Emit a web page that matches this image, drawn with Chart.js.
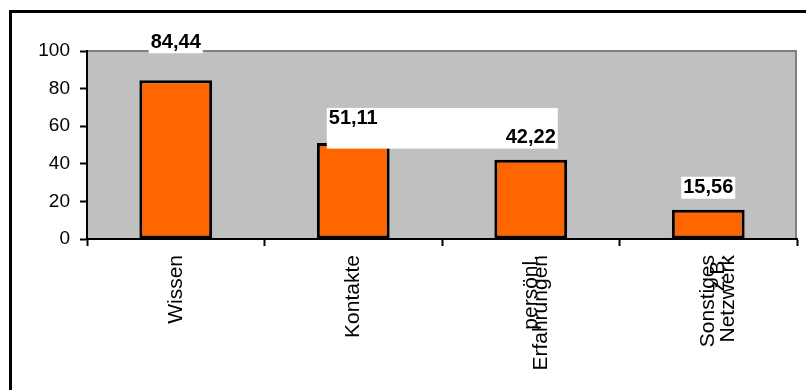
<!DOCTYPE html>
<html>
<head>
<meta charset="utf-8">
<script src="https://cdn.jsdelivr.net/npm/chart.js@4"></script>
<style>
  html, body { margin: 0; padding: 0; background: #fff; }
  #wrap { width: 806px; height: 390px; }
</style>
</head>
<body>
<div id="wrap"><canvas id="chart" width="806" height="390"></canvas></div>
<script>
// Data
const categories = [
    ['Wissen'],
    ['Kontakte'],
    ['persönl.', 'Erfahrungen'],
    ['Sonstiges', 'z.B.', 'Netzwerk']
];
const values = [84.44, 51.11, 42.22, 15.56];
const valueLabels = ['84,44', '51,11', '42,22', '15,56'];
const yTicks = [0, 20, 40, 60, 80, 100];

// Frame: black border top/left, grey plot area with grey edge
const framePlugin = {
    id: 'frame',
    beforeDraw(chart) {
        const { ctx, chartArea: a } = chart;
        ctx.save();
        ctx.fillStyle = '#000';
        ctx.fillRect(9, 10, 3, 390);
        ctx.fillRect(9, 10, 797, 3);
        ctx.fillStyle = '#C0C0C0';
        ctx.fillRect(a.left, a.top, a.right - a.left, a.bottom - a.top);
        ctx.strokeStyle = '#808080';
        ctx.lineWidth = 2;
        ctx.beginPath();
        ctx.moveTo(a.left, a.top);
        ctx.lineTo(a.right - 1, a.top);
        ctx.lineTo(a.right - 1, a.bottom);
        ctx.stroke();
        ctx.restore();
    }
};

// Value labels with white boxes (labels 2 and 3 share one box, as in the original)
const valueLabelPlugin = {
    id: 'valueLabels',
    afterDatasetsDraw(chart) {
        const { ctx } = chart;
        const meta = chart.getDatasetMeta(0);
        const nudge = [-16, -2, 0, 0];
        ctx.save();
        ctx.font = 'bold 20px "Liberation Sans", Arial, sans-serif';
        ctx.textAlign = 'center';
        ctx.textBaseline = 'middle';
        const boxes = meta.data.map((bar, i) => {
            const w = ctx.measureText(valueLabels[i]).width;
            const cy = bar.y - 22 + nudge[i];
            return { x: bar.x, y: cy, l: bar.x - w / 2 - 2, r: bar.x + w / 2 + 2, t: cy - 11, b: cy + 11 };
        });
        ctx.fillStyle = '#fff';
        [0, 3].forEach(i => {
            const b = boxes[i];
            ctx.fillRect(b.l, b.t, b.r - b.l, b.b - b.t);
        });
        const m1 = boxes[1], m2 = boxes[2];
        const l = Math.min(m1.l, m2.l), r = Math.max(m1.r, m2.r);
        const t = Math.min(m1.t, m2.t), bt = Math.max(m1.b, m2.b);
        ctx.fillRect(l, t, r - l, bt - t);
        ctx.fillStyle = '#000';
        boxes.forEach((b, i) => ctx.fillText(valueLabels[i], b.x, b.y));
        ctx.restore();
    }
};

const ctx = document.getElementById('chart').getContext('2d');
const chart = new Chart(ctx, {
    type: 'bar',
    data: {
        labels: categories,
        datasets: [{
            data: values,
            backgroundColor: '#FF6600',
            borderColor: '#000',
            borderWidth: 3,
            borderSkipped: false,
            categoryPercentage: 1,
            barPercentage: 0.41
        }]
    },
    options: {
        responsive: false,
        animation: false,
        layout: { padding: { top: 51, right: 9, left: 0, bottom: 0 } },
        plugins: {
            legend: { display: false },
            tooltip: { enabled: false }
        },
        scales: {
            x: {
                afterFit(scale) { scale.height = 151; },
                grid: {
                    offset: true,
                    drawOnChartArea: false,
                    drawTicks: true,
                    tickLength: 7,
                    tickWidth: 2,
                    tickColor: '#000'
                },
                border: { display: true, color: '#000', width: 2 },
                ticks: {
                    color: '#000',
                    minRotation: 90,
                    maxRotation: 90,
                    padding: 9,
                    autoSkip: false,
                    font: { family: '"Liberation Sans", Arial, sans-serif', size: 21, lineHeight: 0.48 }
                }
            },
            y: {
                min: 0,
                max: 100,
                afterFit(scale) { scale.width = 87; },
                afterBuildTicks(scale) { scale.ticks = yTicks.map(v => ({ value: v })); },
                grid: {
                    drawOnChartArea: false,
                    drawTicks: true,
                    tickLength: 7,
                    tickWidth: 2,
                    tickColor: '#000'
                },
                border: { display: true, color: '#000', width: 2 },
                ticks: {
                    color: '#000',
                    padding: 10,
                    font: { family: '"Liberation Sans", Arial, sans-serif', size: 19 }
                }
            }
        }
    },
    plugins: [framePlugin, valueLabelPlugin]
});
</script>
</body>
</html>
